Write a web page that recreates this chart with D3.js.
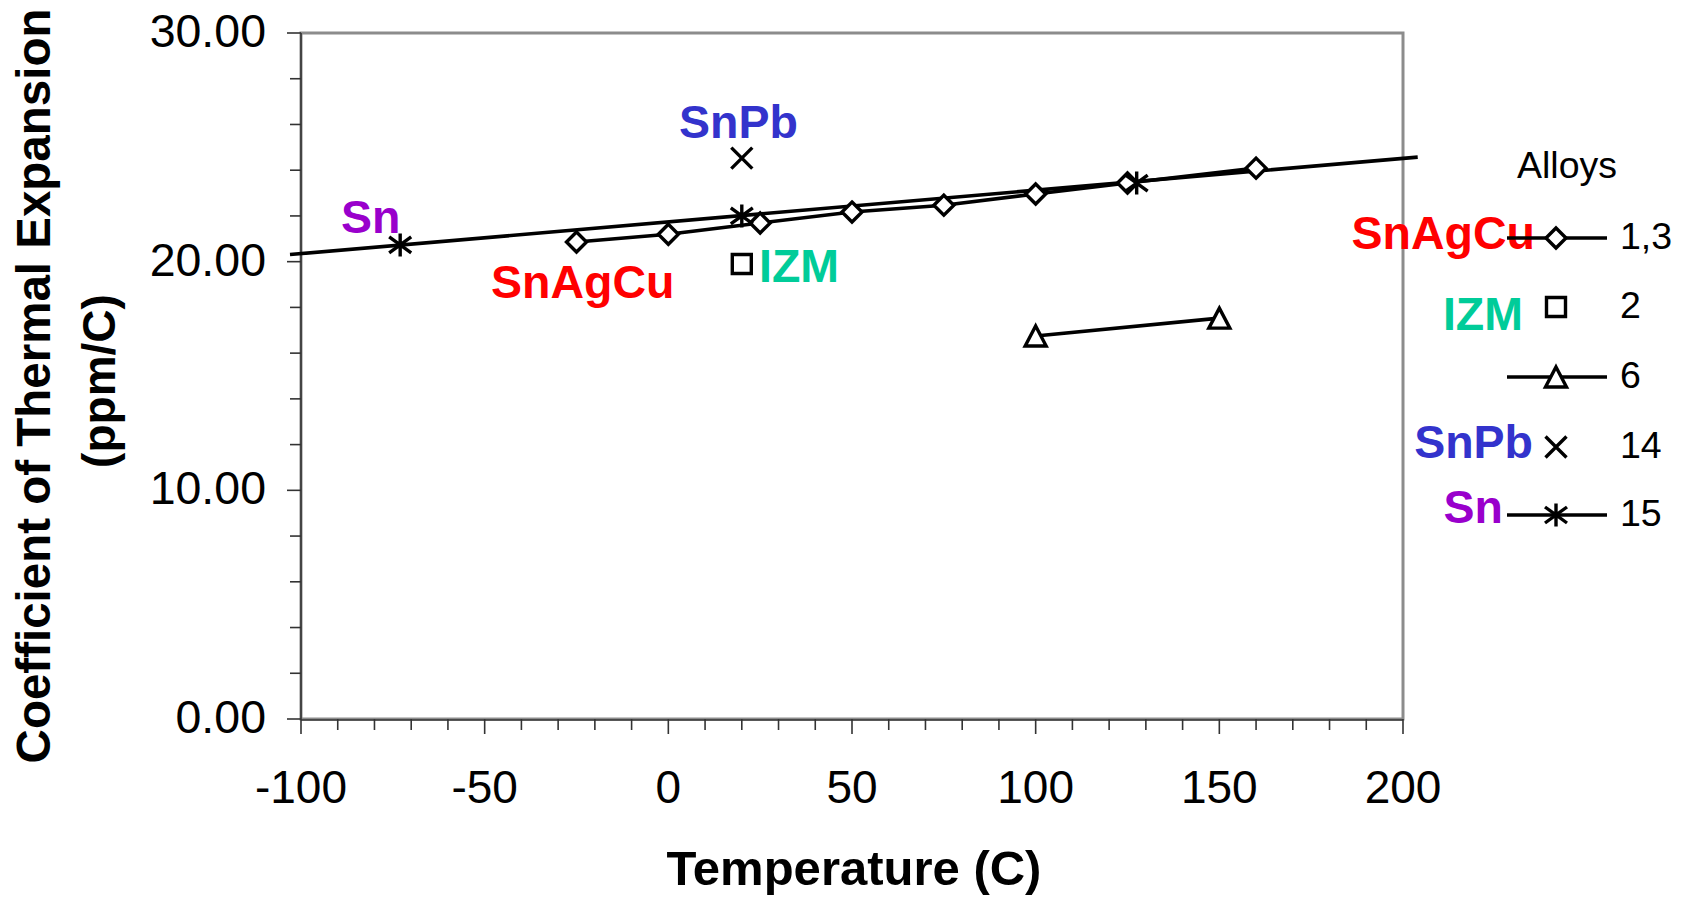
<!DOCTYPE html>
<html>
<head>
<meta charset="utf-8">
<script src="https://cdn.jsdelivr.net/npm/d3@7"></script>
<style>
  html, body { margin: 0; padding: 0; background: #ffffff; }
  svg { display: block; font-family: "Liberation Sans", Arial, sans-serif; }
</style>
</head>
<body>
<svg id="chart" width="1687" height="897"></svg>
<script>
// ---------------- data ----------------
const xTicks = [-100, -50, 0, 50, 100, 150, 200];
const yTicks = [0, 10, 20, 30];
const yTickLabels = ["0.00", "10.00", "20.00", "30.00"];

// Alloys 1,3 (SnAgCu)
const snAgCuT   = [-25, 0, 25, 50, 75, 100, 125, 160];
const snAgCuCTE = [20.86, 21.2, 21.69, 22.17, 22.47, 22.96, 23.44, 24.09];
// Alloy 2 (IZM)
const izmT   = [20];
const izmCTE = [19.9];
// Alloy 6
const alloy6T   = [100, 150];
const alloy6CTE = [16.75, 17.53];
// Alloy 14 (SnPb)
const snPbT   = [20];
const snPbCTE = [24.53];
// Alloy 15 (Sn)
const snT   = [-73, 20, 127.5];
const snCTE = [20.73, 22.0, 23.44];
// Sn straight line (extended)
const snLineT   = [-103, 204];
const snLineCTE = [20.31, 24.57];

const legendNames  = ["1,3", "2", "6", "14", "15"];
const legendLabels = ["SnAgCu", "IZM", "", "SnPb", "Sn"];
const legendSymbols = ["diamond", "square", "triangle", "cross", "star"];
const legendHasLine = [true, false, true, false, true];

// ---------------- layout ----------------
const svg = d3.select("#chart");
const L = 301, R = 1403, T = 33, B = 719;
const x = d3.scaleLinear().domain([-100, 200]).range([L, R]);
const y = d3.scaleLinear().domain([0, 30]).range([B, T]);

const colors = { SnAgCu: "#ff0000", IZM: "#00cc99", SnPb: "#3333cc", Sn: "#9900cc" };
const LW = 3.6, MW = 3.4;

// plot frame
svg.append("rect").attr("x", L).attr("y", T).attr("width", R - L).attr("height", B - T)
  .attr("fill", "none").attr("stroke", "#8c8c8c").attr("stroke-width", 3);

// axes (ticks)
svg.append("g").selectAll("line").data(d3.range(0, 31, 2)).join("line")
  .attr("x1", d => (d % 10 === 0) ? L - 14 : L - 11).attr("x2", L)
  .attr("y1", d => y(d)).attr("y2", d => y(d))
  .attr("stroke", "#333").attr("stroke-width", 1.6);
svg.append("line").attr("x1", L).attr("x2", L).attr("y1", T).attr("y2", B)
  .attr("stroke", "#333").attr("stroke-width", 1.6);

svg.append("g").selectAll("line").data(d3.range(-100, 201, 10)).join("line")
  .attr("x1", d => x(d)).attr("x2", d => x(d))
  .attr("y1", B).attr("y2", d => (d % 50 === 0) ? B + 15 : B + 11)
  .attr("stroke", "#333").attr("stroke-width", 1.6);
svg.append("line").attr("x1", L).attr("x2", R).attr("y1", B + 1).attr("y2", B + 1)
  .attr("stroke", "#333").attr("stroke-width", 1.6);

// tick labels
svg.append("g").selectAll("text").data(yTicks).join("text")
  .attr("x", 266).attr("y", d => y(d) + 14)
  .attr("text-anchor", "end").attr("font-size", 46.5).attr("fill", "#000")
  .text((d, i) => yTickLabels[i]);
svg.append("g").selectAll("text").data(xTicks).join("text")
  .attr("x", d => x(d)).attr("y", 803)
  .attr("text-anchor", "middle").attr("font-size", 46).attr("fill", "#000")
  .text(d => d);

// axis titles
svg.append("text").attr("x", 854).attr("y", 885).attr("text-anchor", "middle")
  .attr("font-size", 49).attr("font-weight", "bold").text("Temperature (C)");
svg.append("text").attr("transform", "translate(50,386) rotate(-90)").attr("text-anchor", "middle")
  .attr("font-size", 47.5).attr("font-weight", "bold").text("Coefficient of Thermal Expansion");
svg.append("text").attr("transform", "translate(115,381) rotate(-90)").attr("text-anchor", "middle")
  .attr("font-size", 46).attr("font-weight", "bold").text("(ppm/C)");

// ---------------- symbols ----------------
function symbolPath(type) {
  switch (type) {
    case "diamond": return "M0,-10L10,0L0,10L-10,0Z";
    case "square": return "M-9.5,-9.5H9.5V9.5H-9.5Z";
    case "triangle": return "M0,-10L10.5,10H-10.5Z";
    case "cross": return "M-10.5,-10.5L10.5,10.5M10.5,-10.5L-10.5,10.5";
    case "star": return "M-11,-8L11,8M11,-8L-11,8M0,-11.5V11.5";
  }
}
function drawSymbols(g, xs, ys, type) {
  const filled = (type === "diamond" || type === "square" || type === "triangle");
  g.selectAll(null).data(xs.map((t, i) => [t, ys[i]])).join("path")
    .attr("transform", d => `translate(${x(d[0])},${y(d[1])})`)
    .attr("d", symbolPath(type))
    .attr("fill", filled ? "#fff" : "none")
    .attr("stroke", "#000").attr("stroke-width", MW).attr("stroke-linejoin", "miter");
}
const line = d3.line().x(d => x(d[0])).y(d => y(d[1]));
const zip = (a, b) => a.map((v, i) => [v, b[i]]);

const plot = svg.append("g");
plot.append("path").attr("d", line(zip(snLineT, snLineCTE)))
  .attr("fill", "none").attr("stroke", "#000").attr("stroke-width", LW);
plot.append("path").attr("d", line(zip(snAgCuT, snAgCuCTE)))
  .attr("fill", "none").attr("stroke", "#000").attr("stroke-width", LW);
plot.append("path").attr("d", line(zip(alloy6T, alloy6CTE)))
  .attr("fill", "none").attr("stroke", "#000").attr("stroke-width", LW);

drawSymbols(plot.append("g"), snAgCuT, snAgCuCTE, "diamond");
drawSymbols(plot.append("g"), izmT, izmCTE, "square");
drawSymbols(plot.append("g"), alloy6T, alloy6CTE, "triangle");
drawSymbols(plot.append("g"), snPbT, snPbCTE, "cross");
drawSymbols(plot.append("g"), snT, snCTE, "star");

// in-chart labels
const chartLabels = [
  { t: "Sn", x: 341, y: 233, c: colors.Sn },
  { t: "SnAgCu", x: 491, y: 298, c: colors.SnAgCu },
  { t: "SnPb", x: 679, y: 138, c: colors.SnPb },
  { t: "IZM", x: 759, y: 282, c: colors.IZM }
];
svg.append("g").selectAll("text").data(chartLabels).join("text")
  .attr("x", d => d.x).attr("y", d => d.y)
  .attr("font-size", 46.5).attr("font-weight", "bold").attr("fill", d => d.c)
  .text(d => d.t);

// ---------------- legend ----------------
const leg = svg.append("g");
leg.append("text").attr("x", 1517).attr("y", 178).attr("font-size", 37.5).text("Alloys");
const rowY = [238, 307, 377, 447, 515];
const labelEnd = [1535, 1523, 0, 1533, 1503];
const labelBase = [249, 330, 0, 458, 523];
legendNames.forEach((n, i) => {
  if (legendLabels[i]) {
    leg.append("text").attr("x", labelEnd[i]).attr("y", labelBase[i])
      .attr("text-anchor", "end").attr("font-size", 46.5).attr("font-weight", "bold")
      .attr("fill", colors[legendLabels[i]]).text(legendLabels[i]);
  }
});
legendNames.forEach((n, i) => {
  const g = leg.append("g");
  if (legendHasLine[i]) {
    g.append("line").attr("x1", 1507).attr("x2", 1607).attr("y1", rowY[i]).attr("y2", rowY[i])
      .attr("stroke", "#000").attr("stroke-width", LW);
  }
  const sg = g.append("g").attr("transform", `translate(${1556},${rowY[i]})`);
  const filled = ["diamond", "square", "triangle"].includes(legendSymbols[i]);
  sg.append("path").attr("d", symbolPath(legendSymbols[i]))
    .attr("fill", filled ? "#fff" : "none").attr("stroke", "#000").attr("stroke-width", MW);
  g.append("text").attr("x", 1620).attr("y", rowY[i] + 11).attr("font-size", 37.5).text(n);
});
</script>
</body>
</html>
